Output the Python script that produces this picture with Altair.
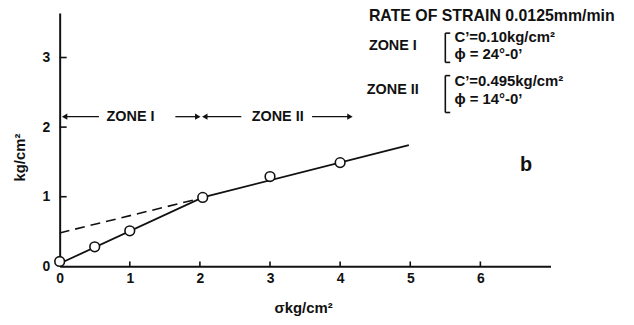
import altair as alt
import pandas as pd

# ---- data ----
sigma = [0.0, 0.5, 1.0, 2.04, 3.0, 4.0]          # normal stress, kg/cm2
tau = [0.07, 0.28, 0.51, 0.99, 1.29, 1.49]       # shear stress, kg/cm2

fit_sigma = [0.0, 2.04, 4.98]                    # solid envelope (zone I + zone II)
fit_tau = [0.04, 0.99, 1.74]

ext_sigma = [0.0, 1.94]                          # dashed extension of zone II
ext_tau = [0.48, 0.96]

x_tick_values = [0, 1, 2, 3, 4, 5, 6]
y_tick_values = [0, 1, 2, 3]
x_axis_end = 7.0
y_axis_end = 3.64

# zone arrows (start, end) along sigma at the arrow level
zone_level = 2.15
zone_segments_x = [0.06, 1.65, 2.07, 3.60]
zone_segments_x2 = [0.56, 1.97, 2.59, 4.14]
arrow_x = [0.07, 1.97, 2.07, 4.14]
arrow_dir = ["left", "right", "left", "right"]
zone_label_text = ["ZONE I", "ZONE II"]
zone_label_x = [1.01, 3.11]

# annotation block (text, sigma, tau)
title_text = ["RATE OF STRAIN 0.0125mm/min"]
title_x = [4.41]
title_y = [3.60]
zone_names = ["ZONE I", "ZONE II"]
zone_names_x = [4.41, 4.38]
zone_names_y = [3.16, 2.53]
param_text = ["C\u2019=0.10kg/cm\u00b2", "\u03d5 = 24\u00b0-0\u2019",
              "C\u2019=0.495kg/cm\u00b2", "\u03d5 = 14\u00b0-0\u2019"]
param_x = [5.63, 5.63, 5.63, 5.63]
param_y = [3.29, 3.05, 2.66, 2.41]
bracket_x = [5.50, 5.50]
bracket_top = [3.35, 2.74]
bracket_bottom = [2.93, 2.21]
bracket_arm = 0.07
panel_letter = ["b"]
panel_x = [6.65]
panel_y = [1.45]

FONT = "Liberation Sans"
INK = "#111111"

xs = alt.Scale(domain=[0, x_axis_end], nice=False, zero=False)
ys = alt.Scale(domain=[0, y_axis_end], nice=False, zero=False)

pts = pd.DataFrame({"sigma": sigma, "tau": tau})
fit = pd.DataFrame({"sigma": fit_sigma, "tau": fit_tau})
ext = pd.DataFrame({"sigma": ext_sigma, "tau": ext_tau})

xt = pd.DataFrame({"x": x_tick_values[1:], "y": 0.0, "y2": 0.07})
yt = pd.DataFrame({"y": y_tick_values[1:], "x": 0.0, "x2": 0.1})

base_axis = dict(grid=False, ticks=False, domain=True, domainWidth=2,
                 domainColor=INK, labelFont=FONT, labelFontSize=14,
                 labelFontWeight="bold", labelColor=INK, labelFlush=False,
                 format="d",
                 titleFont=FONT, titleFontSize=15, titleFontWeight="bold",
                 titleColor=INK)

axis_layer = alt.Chart(pts).mark_point(opacity=0).encode(
    x=alt.X("sigma:Q", scale=xs,
            axis=alt.Axis(values=x_tick_values, labelPadding=5,
                          title="\u03c3kg/cm\u00b2", titleX=245, titleY=41,
                          titleAlign="center", titleBaseline="middle", **base_axis)),
    y=alt.Y("tau:Q", scale=ys,
            axis=alt.Axis(values=y_tick_values, labelPadding=10,
                          title="kg/cm\u00b2", titleAngle=270, titleX=-40, titleY=145,
                          titleAlign="center", titleBaseline="middle", **base_axis)),
)

xtick_layer = alt.Chart(xt).mark_rule(color=INK, strokeWidth=1.6).encode(
    x=alt.X("x:Q", scale=xs), y=alt.Y("y:Q", scale=ys), y2="y2:Q")
ytick_layer = alt.Chart(yt).mark_rule(color=INK, strokeWidth=1.6).encode(
    y=alt.Y("y:Q", scale=ys), x=alt.X("x:Q", scale=xs), x2="x2:Q")

fit_layer = alt.Chart(fit).mark_line(color=INK, strokeWidth=1.8).encode(
    x=alt.X("sigma:Q", scale=xs), y=alt.Y("tau:Q", scale=ys))
ext_layer = alt.Chart(ext).mark_line(color=INK, strokeWidth=1.6, strokeDash=[10, 6]).encode(
    x=alt.X("sigma:Q", scale=xs), y=alt.Y("tau:Q", scale=ys))

pt_layer = alt.Chart(pts).mark_point(shape="circle", filled=True, fill="white",
                                     stroke=INK, strokeWidth=1.6, size=95,
                                     opacity=1).encode(
    x=alt.X("sigma:Q", scale=xs), y=alt.Y("tau:Q", scale=ys))

seg = pd.DataFrame({"x": zone_segments_x, "x2": zone_segments_x2, "y": zone_level})
seg_layer = alt.Chart(seg).mark_rule(color=INK, strokeWidth=1.3).encode(
    x=alt.X("x:Q", scale=xs), x2="x2:Q", y=alt.Y("y:Q", scale=ys))

arr = pd.DataFrame({"x": arrow_x, "y": zone_level, "dir": arrow_dir})
arr_layer = alt.Chart(arr).mark_point(filled=True, color=INK, size=40, opacity=1).encode(
    x=alt.X("x:Q", scale=xs), y=alt.Y("y:Q", scale=ys),
    shape=alt.Shape("dir:N", scale=alt.Scale(domain=["left", "right"],
                                             range=["triangle-left", "triangle-right"]),
                    legend=None))


def text_layer(texts, xv, yv, size, weight="bold", align="left"):
    df = pd.DataFrame({"t": texts, "x": xv, "y": yv})
    return alt.Chart(df).mark_text(font=FONT, fontSize=size, fontWeight=weight,
                                   color=INK, align=align, baseline="middle").encode(
        x=alt.X("x:Q", scale=xs), y=alt.Y("y:Q", scale=ys), text="t:N")


zone_lbl = text_layer(zone_label_text, zone_label_x, [zone_level] * 2, 14.5, align="center")
title_lbl = text_layer(title_text, title_x, title_y, 16)
zone_names_lbl = text_layer(zone_names, zone_names_x, zone_names_y, 14.5)
param_lbl = text_layer(param_text, param_x, param_y, 15)
panel_lbl = text_layer(panel_letter, panel_x, panel_y, 20, align="center")

br = pd.DataFrame({"x": bracket_x, "top": bracket_top, "bot": bracket_bottom})
br_v = alt.Chart(br).mark_rule(color=INK, strokeWidth=1.6).encode(
    x=alt.X("x:Q", scale=xs), y=alt.Y("top:Q", scale=ys), y2="bot:Q")
arms = pd.DataFrame({"x": bracket_x * 2,
                     "x2": [v + bracket_arm for v in bracket_x] * 2,
                     "y": bracket_top + bracket_bottom})
br_h = alt.Chart(arms).mark_rule(color=INK, strokeWidth=1.6).encode(
    x=alt.X("x:Q", scale=xs), x2="x2:Q", y=alt.Y("y:Q", scale=ys))

chart = alt.layer(
    axis_layer, xtick_layer, ytick_layer, ext_layer, fit_layer, pt_layer,
    seg_layer, arr_layer, zone_lbl, title_lbl, zone_names_lbl, param_lbl,
    br_v, br_h, panel_lbl,
).properties(
    width=494, height=255,
    padding={"left": 52, "top": 4, "right": 76, "bottom": 50},
    autosize=alt.AutoSizeParams(type="none"),
    background="white",
).configure_view(stroke=None)

chart.save("out.html", embed_options={"renderer": "svg", "actions": False})
